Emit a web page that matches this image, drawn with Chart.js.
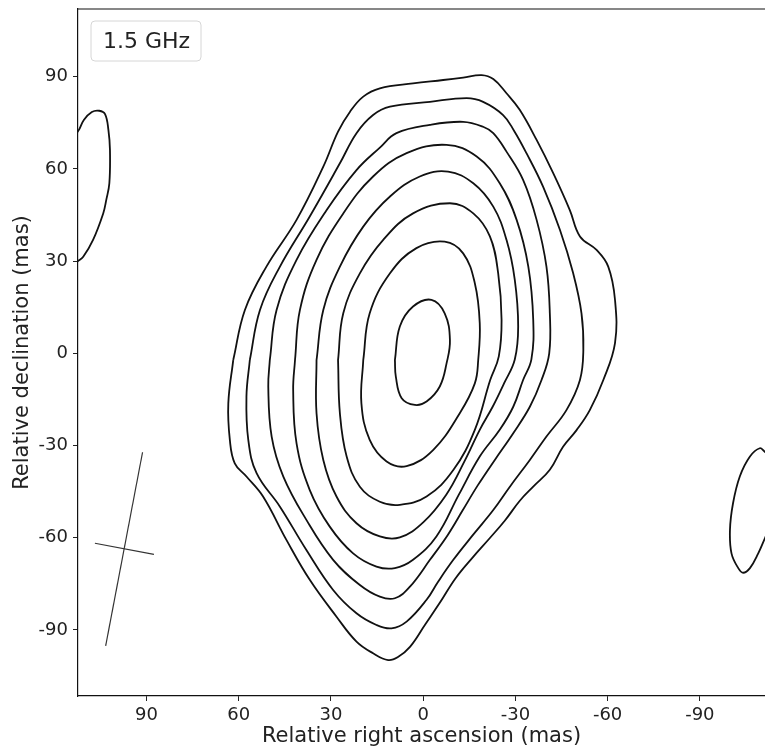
<!DOCTYPE html>
<html>
<head>
<meta charset="utf-8">
<script src="https://cdn.jsdelivr.net/npm/chart.js@4.4.0/dist/chart.umd.min.js"></script>
<style>
  html, body { margin: 0; padding: 0; background: #fff; }
  #wrap { width: 765px; height: 749px; }
</style>
</head>
<body>
<div id="wrap"><canvas id="contours" width="765" height="749"></canvas></div>
<script>
// contour levels, innermost first: [RA offset, Dec offset] in mas
const level1 = [[9.2,-2.2],[7.6,8.7],[3.3,15.2],[-2.7,17.4],[-7.0,13.0],[-8.7,4.3],[-7.6,-3.3],[-5.4,-10.8],[-1.1,-15.7],[2.7,-16.8],[7.0,-14.6],[8.9,-7.6],[9.2,-2.2]];
const level2 = [[19.5,-2.2],[17.4,13.0],[10.8,26.0],[2.2,34.2],[-7.0,36.3],[-13.0,32.5],[-16.8,22.8],[-18.4,9.8],[-17.9,-2.2],[-16.8,-9.8],[-11.9,-19.5],[-3.3,-31.4],[5.4,-36.7],[11.9,-35.2],[17.4,-28.2],[20.1,-16.3],[19.5,-2.2]];
const level3 = [[27.7,-2.2],[26.0,13.0],[20.6,26.0],[13.0,36.9],[3.3,45.5],[-8.7,48.8],[-16.3,45.5],[-21.7,38.0],[-24.4,26.0],[-25.5,10.8],[-24.6,-1.0],[-21.8,-8.7],[-16.8,-24.9],[-9.8,-38.0],[-1.1,-46.6],[7.6,-49.3],[14.1,-48.3],[20.6,-43.4],[24.9,-33.6],[27.1,-19.5],[27.7,-2.2]];
const level4 = [[34.7,-2.2],[32.5,14.1],[27.1,28.2],[19.5,41.2],[10.8,51.0],[1.1,57.5],[-8.1,59.1],[-16.3,55.3],[-22.8,47.7],[-27.1,36.9],[-29.8,23.9],[-30.9,8.7],[-29.8,-2.0],[-26.3,-9.8],[-22.6,-17.4],[-18.4,-24.9],[-13.5,-35.0],[-7.5,-46.0],[0.0,-55.0],[7.6,-59.9],[14.1,-59.6],[21.7,-55.3],[28.2,-46.6],[32.5,-34.7],[34.7,-19.5],[34.7,-2.2]];
const level5 = [[41.7,-2.2],[40.1,14.1],[34.7,30.4],[26.0,45.5],[16.3,57.5],[5.4,65.1],[-7.6,67.8],[-17.4,64.0],[-24.9,55.3],[-30.4,43.4],[-34.2,28.2],[-35.8,10.8],[-35.2,-2.0],[-32.5,-8.7],[-29.3,-17.4],[-24.9,-24.9],[-18.4,-33.6],[-11.6,-46.0],[-4.3,-59.6],[3.3,-67.2],[9.2,-69.9],[15.2,-69.4],[22.8,-65.1],[30.4,-56.4],[36.9,-44.5],[41.2,-29.3],[42.3,-11.9],[41.7,-2.2]];
const level6 = [[49.9,-2.2],[47.7,14.1],[41.2,30.4],[31.4,46.6],[21.7,59.6],[14.0,67.0],[8.7,71.6],[-2.2,74.3],[-13.0,75.3],[-19.5,73.7],[-22.8,71.6],[-27.1,65.6],[-32.5,56.4],[-36.9,43.4],[-40.1,28.2],[-41.2,13.0],[-41.0,0.0],[-38.5,-8.7],[-34.7,-17.4],[-29.3,-26.0],[-23.3,-34.7],[-17.8,-42.9],[-12.9,-51.0],[-8.0,-59.1],[-2.2,-67.2],[4.3,-75.9],[9.2,-79.7],[14.1,-79.2],[20.6,-75.4],[29.3,-67.2],[38.0,-54.2],[45.5,-40.1],[49.3,-27.1],[50.4,-10.8],[49.9,-2.2]];
const level7 = [[56.4,-2.2],[53.1,14.1],[46.6,28.2],[36.9,44.5],[27.1,61.8],[21.7,71.6],[16.3,77.5],[10.8,80.2],[-2.2,81.8],[-14.1,83.0],[-19.5,81.8],[-26.0,77.5],[-29.5,72.5],[-33.6,65.1],[-39.0,54.2],[-44.5,40.1],[-48.8,26.0],[-51.5,13.0],[-52.1,1.1],[-51.0,-8.7],[-46.6,-18.5],[-40.1,-27.1],[-34.7,-34.7],[-28.2,-43.4],[-22.8,-51.0],[-16.2,-59.1],[-9.8,-67.2],[-4.8,-74.4],[-1.1,-80.2],[5.4,-87.3],[10.3,-89.5],[15.2,-88.4],[21.7,-84.6],[29.3,-77.0],[38.0,-64.0],[46.6,-49.9],[54.2,-39.0],[56.9,-28.2],[57.5,-14.1],[56.4,-2.2]];
const level8 = [[61.8,-2.2],[58.0,14.1],[51.0,28.2],[41.2,43.4],[32.5,60.7],[27.7,72.1],[23.8,78.6],[19.5,83.5],[14.1,86.2],[3.3,87.8],[-6.5,88.9],[-13.0,89.7],[-19.0,90.5],[-22.8,89.2],[-27.1,84.6],[-31.4,79.2],[-36.9,69.4],[-42.3,58.6],[-47.7,46.6],[-51.0,38.0],[-56.4,33.6],[-60.2,28.2],[-62.4,17.4],[-62.4,3.3],[-58.6,-8.7],[-54.2,-18.5],[-49.9,-25.0],[-45.5,-30.4],[-41.2,-37.9],[-35.8,-43.4],[-31.5,-47.9],[-26.6,-54.4],[-21.7,-60.1],[-16.2,-66.3],[-10.6,-73.1],[-5.4,-81.2],[-0.6,-88.3],[4.3,-95.5],[8.2,-98.8],[11.4,-99.8],[16.3,-97.6],[21.7,-93.8],[28.2,-85.7],[36.9,-73.7],[44.5,-60.7],[52.1,-46.6],[57.5,-40.1],[61.3,-35.8],[62.9,-28.2],[63.4,-16.3],[61.8,-2.2]];
// bits of the lowest level cut by the edges
const edgeLeft = [[114.0,71.0],[112.3,72.2],[110.4,75.9],[107.8,78.5],[105.4,78.9],[103.5,77.8],[102.4,72.6],[101.9,66.1],[102.1,55.3],[103.1,49.9],[104.1,45.5],[107.4,36.9],[110.6,31.4],[112.3,30.0],[114.0,29.0]];
const edgeRight = [[-113.0,-33.0],[-111.2,-32.1],[-109.5,-30.9],[-106.3,-33.6],[-103.0,-40.1],[-100.8,-48.8],[-99.8,-57.5],[-100.3,-65.1],[-102.5,-69.9],[-104.1,-71.4],[-106.3,-69.9],[-109.0,-65.1],[-111.2,-60.1],[-113.0,-56.0]];
// restoring beam cross
const beamMajor = [[91.3,-32.2],[103.3,-95.2]];
const beamMinor = [[106.8,-61.8],[87.6,-65.4]];

const xTicks = [90, 60, 30, 0, -30, -60, -90];
const yTicks = [90, 60, 30, 0, -30, -60, -90];
const bandLabel = '1.5 GHz';

const FONT = "'DejaVu Sans', sans-serif";
const toPts = arr => arr.map(p => ({ x: p[0], y: p[1] }));

const contourSet = (arr) => ({
    data: toPts(arr),
    showLine: true,
    borderColor: '#111',
    borderWidth: 1.8,
    pointRadius: 0,
    tension: 0.4,
    fill: false
});
const beamSet = (arr) => ({
    data: toPts(arr),
    showLine: true,
    borderColor: '#333',
    borderWidth: 1.2,
    pointRadius: 0,
    tension: 0,
    fill: false
});

// top spine + band label box
const extras = {
    id: 'extras',
    afterDraw(chart) {
        const { ctx, chartArea } = chart;
        ctx.save();
        ctx.strokeStyle = '#111';
        ctx.lineWidth = 1.2;
        ctx.beginPath();
        ctx.moveTo(chartArea.left, chartArea.top);
        ctx.lineTo(chartArea.right, chartArea.top);
        ctx.stroke();

        const bx = 91, by = 21, bw = 110, bh = 40;
        ctx.beginPath();
        ctx.roundRect(bx, by, bw, bh, 4);
        ctx.fillStyle = 'rgba(255,255,255,0.8)';
        ctx.fill();
        ctx.strokeStyle = '#d6d6d6';
        ctx.lineWidth = 1;
        ctx.stroke();
        ctx.fillStyle = '#222';
        ctx.font = '22px ' + FONT;
        ctx.textBaseline = 'alphabetic';
        ctx.textAlign = 'left';
        ctx.fillText(bandLabel, 103, 47.5);
        ctx.restore();
    }
};

new Chart(document.getElementById('contours'), {
    type: 'scatter',
    data: {
        datasets: [level1, level2, level3, level4, level5, level6, level7, level8, edgeLeft, edgeRight]
            .map(contourSet)
            .concat([beamSet(beamMajor), beamSet(beamMinor)])
    },
    options: {
        responsive: false,
        animation: false,
        events: [],
        layout: { padding: { top: 9, right: 0, bottom: 0, left: 0 } },
        elements: { line: { capBezierPoints: false } },
        plugins: { legend: { display: false }, tooltip: { enabled: false } },
        scales: {
            x: {
                type: 'linear',
                reverse: true,
                min: -111.2,
                max: 112.3,
                afterFit: s => { s.height = 53; s.paddingLeft = 0; s.paddingRight = 0; },
                afterBuildTicks: s => { s.ticks = xTicks.map(v => ({ value: v })); },
                grid: { drawOnChartArea: false, drawTicks: true, tickLength: 5, color: '#222' },
                border: { display: true, color: '#111', width: 1.2 },
                ticks: { color: '#222', padding: 4, font: { family: FONT, size: 18 }, callback: v => String(v) },
                title: { display: true, text: 'Relative right ascension (mas)', color: '#222', font: { family: FONT, size: 21 }, padding: { top: 0, bottom: 0 } }
            },
            y: {
                type: 'linear',
                min: -111.5,
                max: 112.0,
                afterFit: s => { s.width = 78; s.paddingTop = 0; s.paddingBottom = 0; },
                afterBuildTicks: s => { s.ticks = yTicks.map(v => ({ value: v })); },
                grid: { drawOnChartArea: false, drawTicks: true, tickLength: 5, color: '#222' },
                border: { display: true, color: '#111', width: 1.2 },
                ticks: { color: '#222', padding: 5, font: { family: FONT, size: 18 }, callback: v => String(v) },
                title: { display: true, text: 'Relative declination (mas)', color: '#222', font: { family: FONT, size: 21 }, padding: { top: 10, bottom: 0 } }
            }
        }
    },
    plugins: [extras]
});
</script>
</body>
</html>
